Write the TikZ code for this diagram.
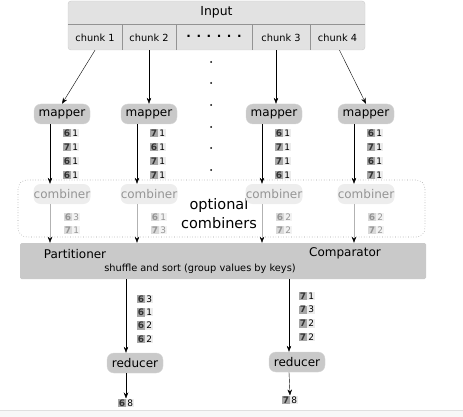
\documentclass[tikz,border=0pt]{standalone}
\usepackage{fontspec}
\setmainfont{DejaVu Sans}
\usetikzlibrary{arrows.meta}
\definecolor{inputfill}{HTML}{E2E2E2}
\definecolor{taskfill}{HTML}{C9C9C9}
\definecolor{combfill}{HTML}{EDEDED}
\definecolor{keygray}{HTML}{A6A6A6}
\definecolor{valgray}{HTML}{ECECEC}
\definecolor{keyfade}{HTML}{D9D9D9}
\definecolor{valfade}{HTML}{F2F2F2}
\definecolor{fadetext}{HTML}{959595}
% key/value pair, normal and faded
\newcommand{\kv}[2]{{\setlength{\fboxsep}{0.9pt}\colorbox{keygray}{\bfseries\color{black!80}#1}\hspace{0.4pt}\colorbox{valgray}{#2}}}
\newcommand{\kvfade}[2]{{\color{fadetext}\setlength{\fboxsep}{0.9pt}\colorbox{keyfade}{\bfseries #1}\hspace{0.4pt}\colorbox{valfade}{#2}}}
\begin{document}
\begin{tikzpicture}[x=1pt,y=-1pt,>={Stealth[length=6pt,width=4.5pt]},line join=round,
    task/.style={fill=taskfill,draw=taskfill!80,rounded corners=7pt,minimum width=56pt,minimum height=20pt,inner sep=0pt,font=\fontsize{12}{12}\selectfont},
    comb/.style={fill=combfill,rounded corners=7pt,minimum width=57pt,minimum height=20pt,inner sep=0pt,text=fadetext,font=\fontsize{12}{12}\selectfont},
    pair/.style={inner sep=0pt,font=\fontsize{9}{9}\selectfont},
    cell/.style={minimum height=25pt,inner sep=0pt,font=\fontsize{9.8}{10}\selectfont},
    sep/.style={draw=gray!85,line width=1.2pt},
    fadearrow/.style={draw=gray!60,-{Stealth[length=6pt,width=4.5pt,color=black]}}]
  \useasboundingbox (0,0) rectangle (463,417);
  % page strip at the bottom
  \fill[gray!6] (0,410) rectangle (463,417);
  \draw[gray!25] (0,410) -- (463,410);
  % input split into chunks
  \node[fill=inputfill,draw=gray!40,rounded corners=3pt,minimum width=297pt,minimum height=49pt] (input) at (216.5,25.5) {};
  \node[font=\fontsize{12.4}{13}\selectfont] (inlabel) at (216.5,12) {Input};
  \draw[sep] (68,24.5) -- (365,24.5);
  \foreach \x in {122,176,252,310} \draw[sep,line width=1pt] (\x,25) -- (\x,50);
  \node[cell,minimum width=54pt] (ch1) at (95,37.5) {chunk 1};
  \node[cell,minimum width=54pt] (ch2) at (149,37.5) {chunk 2};
  \node[cell,minimum width=76pt,font=\fontsize{12}{12}\selectfont] (chdots) at (214,36) {\textbf{. . . . . .}};
  \node[cell,minimum width=58pt] (ch3) at (281,37.5) {chunk 3};
  \node[cell,minimum width=55pt] (ch4) at (337.5,37.5) {chunk 4};
  \foreach \y in {62,83,105,127,148,170} \fill (211,\y) circle (1pt);
  % combiner group
  \draw[gray!75,dotted,line width=0.6pt,rounded corners=9pt] (18,180) rectangle (425,237);
  \node[align=center,font=\fontsize{14.5}{19}\selectfont] (opt) at (219,213.5) {optional\\combiners};
  % shuffle box
  \node[fill=taskfill,rounded corners=1.5pt,minimum width=406pt,minimum height=36pt] (sort) at (223,261) {};
  \node[font=\fontsize{12}{12}\selectfont] (part) at (75,254) {Partitioner};
  \node[font=\fontsize{12}{12}\selectfont] (comp) at (345,253) {Comparator};
  \node[font=\fontsize{9.8}{10}\selectfont] (shuf) at (200,269) {shuffle and sort (group values by keys)};
  % mappers and combiners
  \foreach \n/\x/\mp/\cp in {1/62/{6/1,7/1,6/1,6/1}/{6/3,7/1},2/149/{7/1,6/1,7/1,7/1}/{6/1,7/3},
      3/274/{6/1,7/1,7/1,6/1}/{6/2,7/2},4/366/{6/1,7/1,6/1,7/1}/{6/2,7/2}} {
    \node[task] (m\n) at (\x,114) {mapper};
    \node[comb] (c\n) at (\x,194) {combiner};
    \draw[->] ([xshift=-12pt]m\n.south) -- ([xshift=-12pt]c\n.north);
    \draw[fadearrow] ([xshift=-12pt]c\n.south) -- ([xshift=-12pt]c\n.south |- sort.north);
    \foreach [count=\r] \k/\v in \mp
      \node[pair] (m\n p\r) at (\x+9,119+14*\r) {\kv{\k}{\v}};
    \foreach [count=\r] \k/\v in \cp
      \node[pair] (c\n p\r) at (\x+10,204+13*\r) {\kvfade{\k}{\v}};
  }
  \draw[->] (ch1.south) -- (m1.north);
  \draw[->] (ch2.south) -- (m2.north);
  \draw[->] ([xshift=-5pt]ch3.south) -- ([xshift=2pt]m3.north);
  \draw[->] ([xshift=2pt]ch4.south) -- (m4.north);
  % reducers
  \node[task] (r1) at (135,363) {reducer};
  \node[task] (r2) at (297,362) {reducer};
  \draw[->] ([xshift=-9pt]r1.north |- sort.south) -- ([xshift=-9pt]r1.north);
  \draw[->] ([xshift=-8pt]r2.north |- sort.south) -- ([xshift=-8pt]r2.north);
  \foreach [count=\r] \k/\v in {6/3,6/1,6/2,6/2}
    \node[pair] (r1p\r) at (145,285.5+13.4*\r) {\kv{\k}{\v}};
  \foreach [count=\r] \k/\v in {7/1,7/3,7/2,7/2}
    \node[pair] (r2p\r) at (307,282.5+13.6*\r) {\kv{\k}{\v}};
  \node[pair] (out1) at (126,403) {\kv{6}{8}};
  \node[pair] (out2) at (290,400) {\kv{7}{8}};
  \draw[->] ([xshift=-9pt]r1.south) -- (out1.north);
  \draw[->] ([xshift=-8pt]r2.south) -- (out2.north);
\end{tikzpicture}
\end{document}
